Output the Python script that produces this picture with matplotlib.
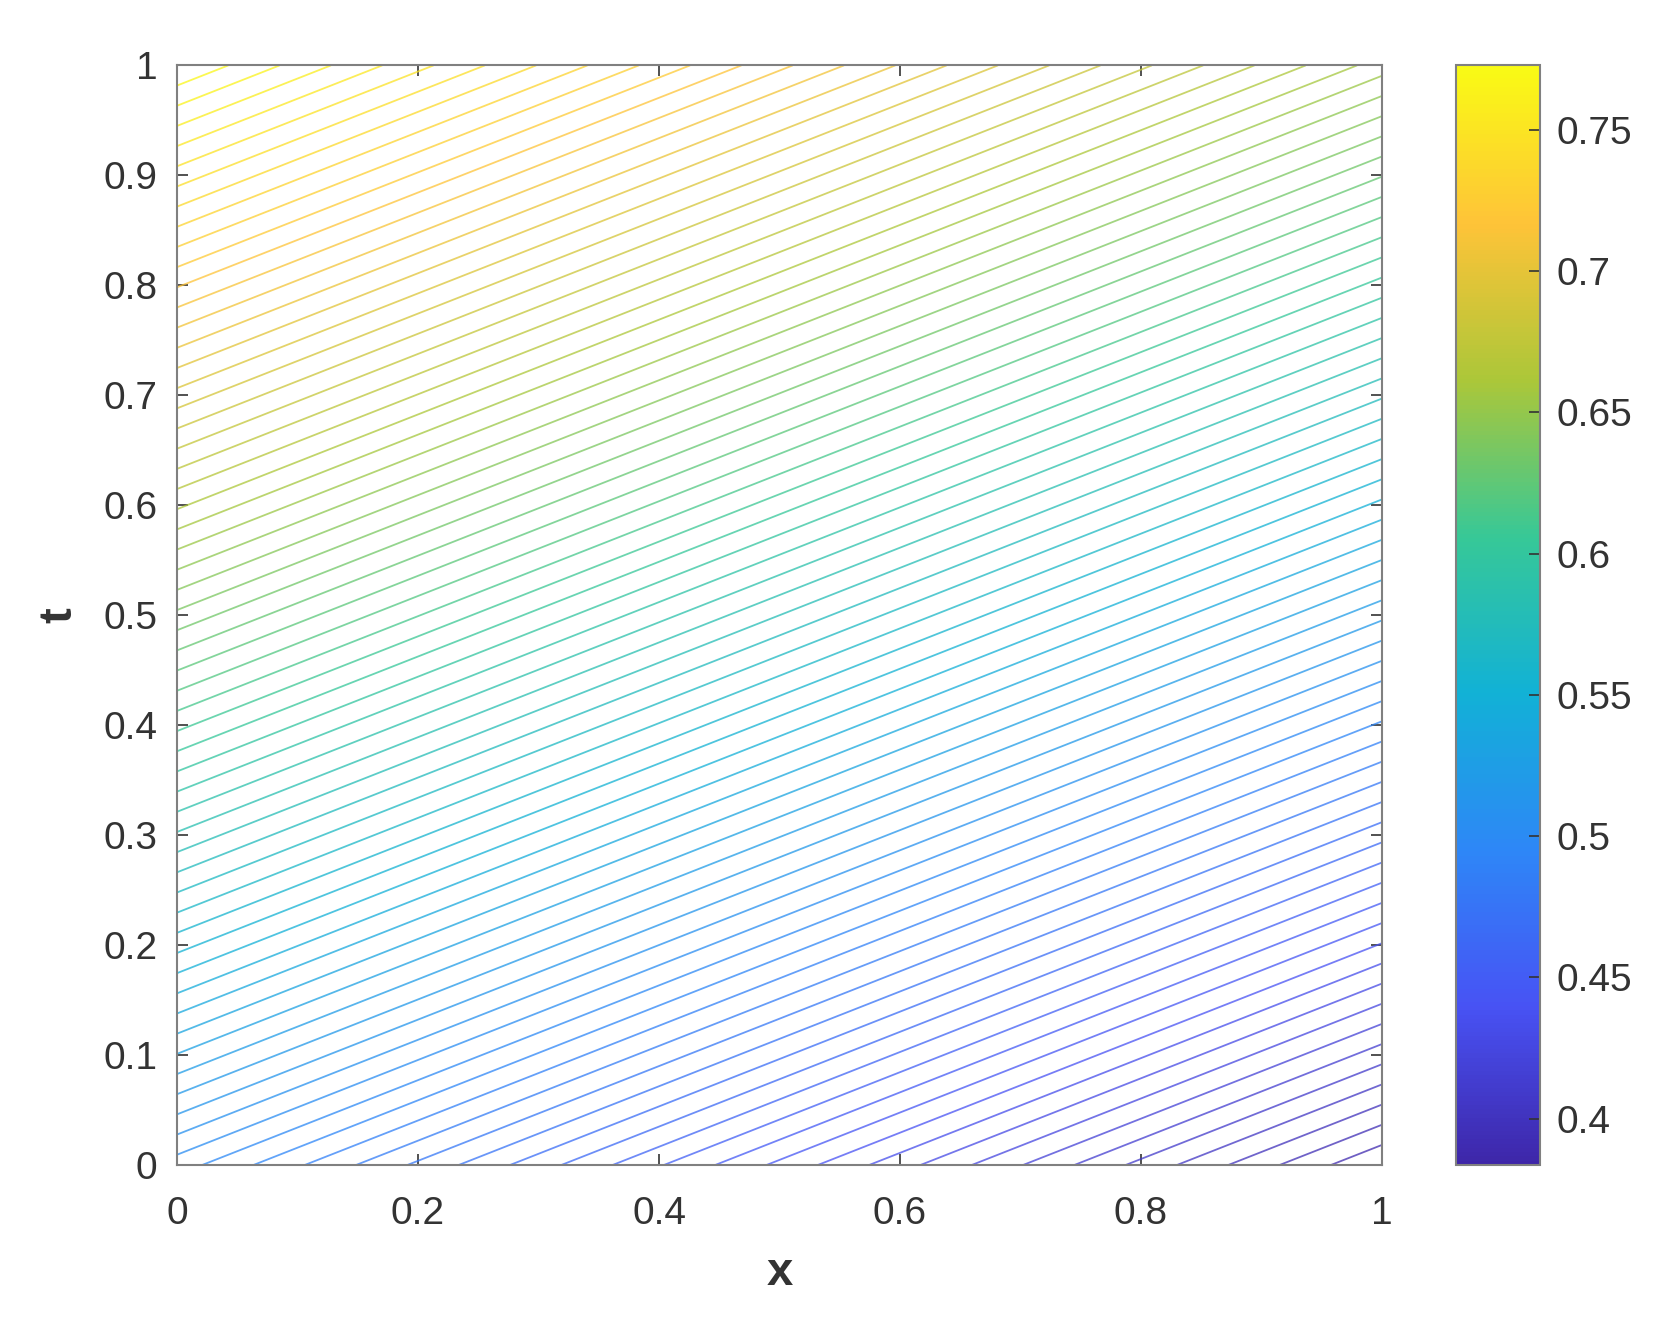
"""
Contour map of u(x, t) in MATLAB style (parula colours, thin contour lines).
"""

import numpy as np
import matplotlib
matplotlib.use('Agg')
import matplotlib.pyplot as plt
from matplotlib.colors import LinearSegmentedColormap, Normalize
from matplotlib.cm import ScalarMappable
from matplotlib.ticker import FuncFormatter

plt.rcParams['font.family'] = ['Liberation Sans', 'DejaVu Sans']

# Field: corner values of u on the unit square
x_vals = [0.0, 1.0]
t_vals = [0.0, 1.0]
u_corners = [[0.5008, 0.3836],   # t = 0  (x = 0, x = 1)
             [0.7728, 0.6556]]   # t = 1
n_levels = 77

x_ticks = [0, 0.2, 0.4, 0.6, 0.8, 1]
t_ticks = [0, 0.1, 0.2, 0.3, 0.4, 0.5, 0.6, 0.7, 0.8, 0.9, 1]
cbar_ticks = [0.4, 0.45, 0.5, 0.55, 0.6, 0.65, 0.7, 0.75]

# approximate MATLAB parula
parula_pts = [
    (0.2422, 0.1504, 0.6603),
    (0.2810, 0.3228, 0.9579),
    (0.1786, 0.5289, 0.9682),
    (0.0689, 0.6948, 0.8394),
    (0.2161, 0.7843, 0.5923),
    (0.6720, 0.7793, 0.2227),
    (0.9970, 0.7659, 0.2199),
    (0.9769, 0.9839, 0.0805),
]
parula = LinearSegmentedColormap.from_list('parula', parula_pts)

U = np.array(u_corners)
umin, umax = U.min(), U.max()
levels = np.linspace(umin, umax, n_levels + 2)[1:-1]
norm = Normalize(vmin=umin, vmax=umax)

fig = plt.figure(figsize=(16.54, 13.35), dpi=100)
ax = fig.add_axes([0.107, 0.1273, 0.7286, 0.8237])
cax = fig.add_axes([0.880, 0.1273, 0.0508, 0.8237])

ax.contour(x_vals, t_vals, U, levels=levels, cmap=parula, norm=norm,
           linewidths=1.3, alpha=0.75)

tick_col = '#333333'
spine_col = '#808080'
fmt = FuncFormatter(lambda v, p: f'{v:g}')

ax.set_xlim(0, 1)
ax.set_ylim(0, 1)
ax.set_xticks(x_ticks)
ax.set_yticks(t_ticks)
ax.xaxis.set_major_formatter(fmt)
ax.yaxis.set_major_formatter(fmt)
ax.tick_params(direction='in', length=8, width=1.2, colors=tick_col,
               labelsize=28, top=True, right=True)
ax.tick_params(axis='x', pad=22)
ax.tick_params(axis='y', pad=14)
for s in ax.spines.values():
    s.set_color(spine_col)
    s.set_linewidth(1.5)

ax.set_xlabel('x', fontsize=34, fontweight='bold', color=tick_col, labelpad=14)
ax.set_ylabel('t', fontsize=34, fontweight='bold', color=tick_col, labelpad=16)

cb = fig.colorbar(ScalarMappable(norm=norm, cmap=parula), cax=cax)
cb.set_ticks(cbar_ticks)
cb.ax.yaxis.set_major_formatter(fmt)
cb.ax.tick_params(direction='in', length=8, width=1.2, colors=tick_col,
                  labelsize=28, pad=12)
cb.outline.set_edgecolor(spine_col)
cb.outline.set_linewidth(1.5)

plt.savefig('out.png', dpi=100)
plt.close()
